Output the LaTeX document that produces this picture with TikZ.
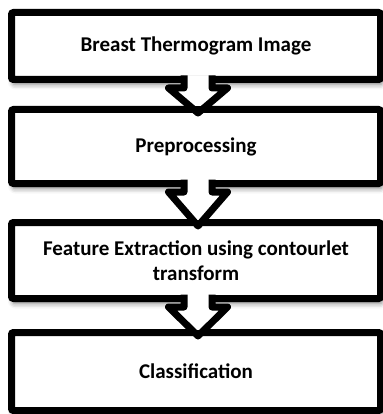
\documentclass[tikz,border=0pt]{standalone}
\usepackage{fontspec}
\setmainfont{Carlito}
\usetikzlibrary{calc,shadows.blur}
\tikzset{
  box/.style={draw=black, fill=white, line width=7pt, rounded corners=2pt,
    minimum width=369pt, outer sep=0pt, align=center,
    font=\fontsize{21}{24.5}\selectfont\bfseries,
    blur shadow={shadow xshift=1.5pt, shadow yshift=-5pt, shadow blur radius=5pt, shadow opacity=50}},
  arrowfill/.style={fill=white},
  arrowline/.style={draw=black, line width=7pt, line join=round}
}
\newcommand\blockarrow[2]{%
  \coordinate (#1-S) at ($(#1.south)+(2,0)$);
  \coordinate (#1-T) at ($(#2.north)+(2,3.5)$);
  \begin{scope}
    \clip ($(#1-S)+(-45,-10)$) rectangle ($(#2.north)+(45,-3.5)$);
    \fill[arrowfill]
      ($(#1-S)+(-14,-4)$) -- ($(#1-S)+(-14,8.5)$) -- ($(#1-S)+(-29.5,8.5)$) --
      (#1-T) -- ($(#1-S)+(29.5,8.5)$) -- ($(#1-S)+(14,8.5)$) -- ($(#1-S)+(14,-4)$) -- cycle;
  \end{scope}
  \draw[arrowline]
    ($(#1-S)+(-14,-4)$) -- ($(#1-S)+(-14,8.5)$) -- ($(#1-S)+(-29.5,8.5)$) --
    (#1-T) -- ($(#1-S)+(29.5,8.5)$) -- ($(#1-S)+(14,8.5)$) -- ($(#1-S)+(14,-4)$);
}
\begin{document}
\begin{tikzpicture}[x=1pt, y=-1pt]
  \useasboundingbox (0,0) rectangle (382,414);
  \node[box, minimum height=67pt] (b1) at (196,46) {Breast Thermogram Image};
  \node[box, minimum height=74pt] (b2) at (196,146.5) {Preprocessing};
  \node[box, minimum height=76pt] (b3) at (196,260.5) {Feature Extraction using contourlet\\transform};
  \node[box, minimum height=78pt] (b4) at (196,371.5) {Classification};
  \blockarrow{b1}{b2}
  \blockarrow{b2}{b3}
  \blockarrow{b3}{b4}
\end{tikzpicture}
\end{document}
